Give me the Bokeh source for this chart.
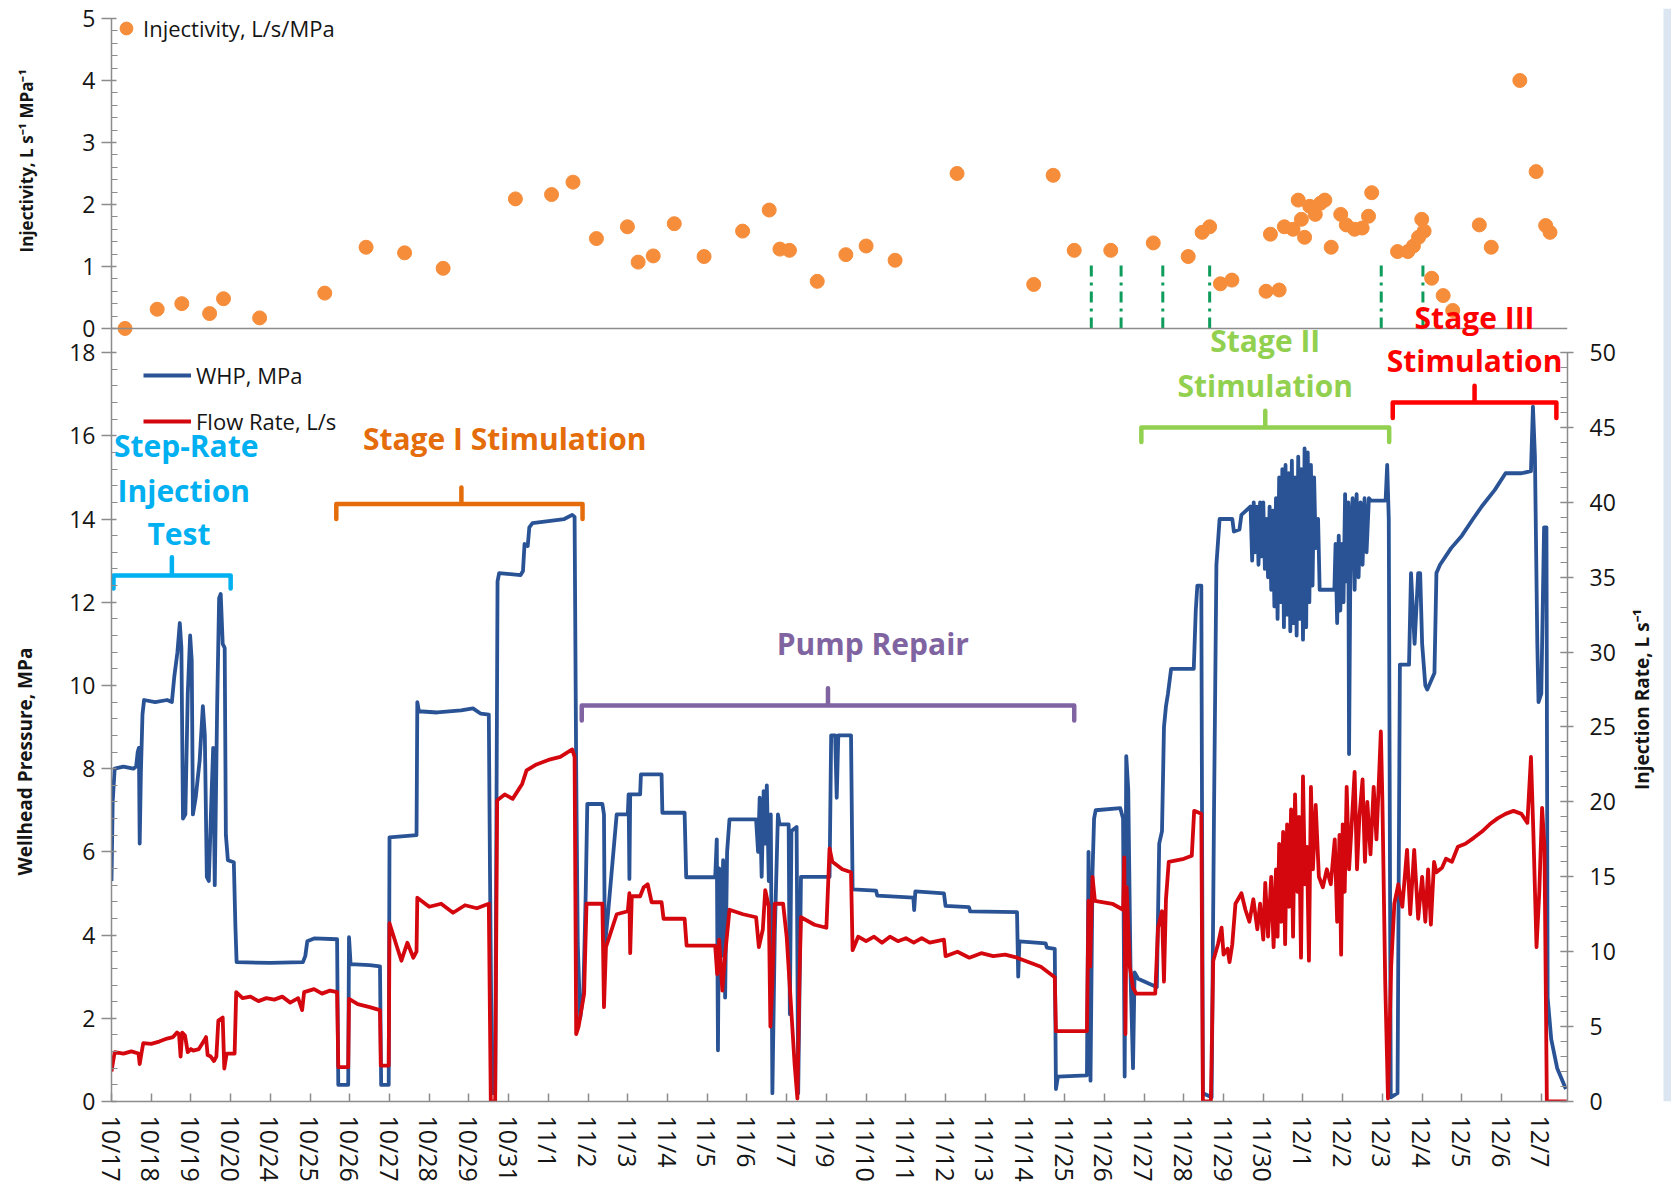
import math
from bokeh.plotting import figure
from bokeh.layouts import row
from bokeh.models import (Range1d, LinearAxis, FixedTicker, SingleIntervalTicker, Span,
                          Legend, LegendItem, Label, BoxAnnotation)
from bokeh.embed import file_html
from bokeh.resources import INLINE

# ---------------- data ----------------
dates = ["10/17", "10/18", "10/19", "10/20", "10/24", "10/25", "10/26", "10/27", "10/28",
         "10/29", "10/31", "11/1", "11/2", "11/3", "11/4", "11/5", "11/6", "11/7", "11/9",
         "11/10", "11/11", "11/12", "11/13", "11/14", "11/25", "11/26", "11/27", "11/28",
         "11/29", "11/30", "12/1", "12/2", "12/3", "12/4", "12/5", "12/6", "12/7"]

# wellhead pressure (MPa); x = position along the date-category axis
whp_x = [0.00, 0.03, 0.08, 0.30, 0.55, 0.62, 0.66, 0.69, 0.71, 0.74, 0.78, 0.82, 1.10, 1.40,
         1.52, 1.58, 1.66, 1.72, 1.76, 1.80, 1.86, 1.92, 1.98, 2.02, 2.05, 2.12, 2.22, 2.30,
         2.35, 2.40, 2.45, 2.52, 2.56, 2.60, 2.66, 2.71, 2.75, 2.80, 2.85, 2.88, 2.93, 3.08,
         3.12, 3.15,
         4.00, 4.82, 4.88, 4.93, 5.10, 5.68, 5.71, 5.96, 5.98, 6.02, 6.50, 6.76, 6.79, 6.98,
         7.00, 7.68,
         7.70, 7.74, 8.20, 8.80, 9.10, 9.30, 9.50, 9.53, 9.58, 9.66, 9.72, 9.76, 10.30, 10.36,
         10.40, 10.48, 10.52, 10.60, 11.00, 11.40, 11.60, 11.66, 11.70, 11.74, 11.80, 11.88,
         11.94, 11.98,
         12.36, 12.40, 12.42, 12.50, 12.72, 13.00, 13.02, 13.04, 13.06, 13.31, 13.33, 13.85,
         13.87, 14.43, 14.47, 15.20, 15.24, 15.27, 15.30, 15.35, 15.40, 15.45, 15.50, 15.56,
         16.23, 16.28, 16.32, 16.37, 16.42, 16.46, 16.50, 16.55, 16.60, 16.64, 16.70, 16.78,
         16.82, 17.05, 17.08, 17.12, 17.25, 17.29, 17.36, 18.08, 18.12, 18.22, 18.26, 18.30,
         18.62, 18.66, 19.25, 19.28, 20.19, 20.21, 20.24, 20.96, 21.00, 21.59, 21.62, 22.80,
         22.83, 22.86, 23.52, 23.55, 23.75, 23.78, 23.83, 24.56, 24.60, 24.65, 24.70, 24.74,
         24.78, 25.40, 25.47, 25.51, 25.55, 25.60, 25.66, 25.72, 25.76, 25.85, 26.20, 26.32,
         26.38, 26.45, 26.50, 26.55, 26.60, 26.68, 27.25, 27.30, 27.34, 27.44, 27.48, 27.70,
         27.76, 27.82, 27.90, 28.22, 28.26, 28.40, 28.45, 28.68,
         28.72, 28.76, 28.80, 28.84, 28.88, 28.92, 28.96, 29.00, 29.04, 29.08, 29.12, 29.16,
         29.20, 29.24, 29.28, 29.32, 29.36, 29.40, 29.44, 29.48, 29.52, 29.56, 29.60, 29.64,
         29.68, 29.72, 29.76, 29.80, 29.84, 29.88, 29.92, 29.96, 30.00, 30.04, 30.08, 30.12,
         30.16, 30.20, 30.24, 30.28, 30.32, 30.38, 30.42, 30.79, 30.82, 30.86, 30.90, 30.94,
         30.98, 31.02, 31.06, 31.10, 31.14, 31.16, 31.20, 31.25, 31.30, 31.35, 31.40, 31.45,
         31.50, 31.55, 31.60, 31.66, 31.72, 32.08, 32.12, 32.16, 32.21, 32.38, 32.44, 32.67,
         32.72, 32.81, 32.90, 32.95, 33.00, 33.08, 33.13, 33.31, 33.36, 33.45, 33.73, 34.00,
         34.28, 34.50, 34.83, 35.10, 35.50, 35.74, 35.79, 35.84, 35.90, 35.93, 36.00, 36.07,
         36.13, 36.16, 36.25, 36.40, 36.62]
whp_y = [5.3, 7.2, 8.0, 8.05, 8.0, 8.05, 8.4, 8.5, 6.2, 7.9, 9.3, 9.65, 9.6, 9.65,
         9.6, 10.2, 10.8, 11.5, 10.9, 6.8, 6.9, 9.8, 11.2, 10.6, 6.9, 7.3, 8.2, 9.5,
         8.8, 5.4, 5.3, 7.4, 8.5, 5.2, 9.5, 12.1, 12.2, 11.0, 10.9, 6.4, 5.8, 5.75,
         4.2, 3.35,
         3.33, 3.35, 3.5, 3.85, 3.92, 3.9, 0.4, 0.4, 3.95, 3.3, 3.28, 3.25, 0.4, 0.4,
         6.35, 6.4,
         9.6, 9.38, 9.35, 9.4, 9.45, 9.32, 9.3, 5.5, 0.2, 0.2, 12.5, 12.7, 12.65, 12.75,
         13.4, 13.35, 13.8, 13.9, 13.95, 14.0, 14.1, 14.05, 8.0, 3.8, 2.0, 2.6,
         5.0, 7.15,
         7.15, 6.9, 3.7, 4.5, 6.9, 6.9, 7.38, 5.35, 7.38, 7.38, 7.86, 7.86,
         6.94, 6.94, 5.39, 5.39, 6.3, 1.23, 5.6, 3.5, 5.8, 2.5, 6.0, 6.78,
         6.78, 6.0, 7.3, 5.4, 7.46, 6.2, 7.6, 5.3, 6.9, 0.2, 4.0, 6.9,
         6.66, 6.66, 2.1, 6.5, 6.6, 0.2, 5.4, 5.4, 8.8, 8.8, 7.3, 8.8,
         8.8, 5.1, 5.07, 4.95, 4.9, 4.6, 5.05, 5.0, 4.7, 4.67, 4.57, 4.55,
         3.0, 3.85, 3.8, 3.7, 3.67, 0.3, 0.6, 0.63, 6.0, 0.5, 5.5, 6.8,
         7.0, 7.05, 6.8, 0.6, 8.3, 7.5, 3.0, 0.8, 3.1, 2.95, 2.8, 2.75,
         6.2, 6.5, 9.0, 9.5, 9.8, 10.4, 10.4, 11.8, 12.4, 12.4, 0.2, 0.1,
         7.0, 12.9, 14.0, 14.0, 13.7, 13.75, 14.1, 14.3,
         13.0, 14.4, 13.2, 14.3, 12.9, 14.4, 13.1, 14.4, 12.8, 14.0, 12.6, 14.3,
         12.3, 14.2, 11.9, 14.5, 11.6, 15.0, 12.0, 15.2, 11.4, 15.3, 11.7, 15.1,
         11.3, 15.4, 11.5, 15.0, 11.2, 15.5, 11.6, 15.2, 11.1, 15.7, 11.4, 15.6,
         12.0, 15.3, 12.4, 15.0, 13.3, 14.0, 12.3, 12.3, 13.4, 11.5, 13.6, 11.8,
         13.4, 12.0, 14.6, 12.5, 14.4, 8.35, 13.8, 14.5, 12.3, 14.6, 12.6, 14.4,
         12.9, 14.5, 13.2, 14.5, 14.44, 14.44, 15.3, 14.0, 0.1, 0.2, 10.5, 10.5,
         12.7, 11.0, 12.7, 12.7, 11.0, 10.0, 9.9, 10.3, 12.7, 12.9, 13.3, 13.6,
         14.0, 14.3, 14.7, 15.1, 15.1, 15.15, 16.7, 15.5, 11.0, 9.6, 9.8, 13.8,
         13.8, 2.5, 1.5, 0.8, 0.3]

# injection flow rate (L/s)
flow_x = [0.00, 0.08, 0.30, 0.50, 0.68, 0.71, 0.76, 0.80, 1.00, 1.20, 1.40, 1.55, 1.65, 1.70,
          1.74, 1.78, 1.85, 1.92, 2.00, 2.06, 2.20, 2.34, 2.38, 2.42, 2.50, 2.58, 2.64, 2.69,
          2.80, 2.84, 2.90, 3.10, 3.14, 3.30, 3.50, 3.70, 3.90, 4.10, 4.30, 4.50, 4.70, 4.80,
          4.85, 5.10, 5.30, 5.50, 5.68, 5.71, 5.96, 5.98, 6.20, 6.50, 6.76, 6.78, 6.98, 7.00,
          7.19, 7.30, 7.45, 7.60, 7.68, 7.70, 8.00, 8.30, 8.60, 8.90, 9.20, 9.50, 9.55, 9.66,
          9.71, 9.90, 10.10, 10.34, 10.45, 10.70, 11.00, 11.30, 11.60, 11.66, 11.70, 11.76,
          11.90, 11.96, 12.36, 12.40, 12.45, 12.72, 13.00, 13.04, 13.06, 13.10, 13.31, 13.40,
          13.50, 13.60, 13.85, 13.90, 14.43, 14.48, 15.20, 15.25, 15.30, 15.38, 15.45, 15.56,
          15.90, 16.23, 16.30, 16.40, 16.46, 16.55, 16.59, 16.64, 16.70, 16.91, 17.00, 17.20,
          17.27, 17.32, 17.36, 17.70, 18.00, 18.08, 18.15, 18.40, 18.62, 18.66, 18.80, 19.00,
          19.20, 19.40, 19.60, 19.80, 20.00, 20.20, 20.40, 20.60, 20.96, 21.00, 21.30, 21.60,
          21.90, 22.20, 22.50, 22.80, 23.10, 23.40, 23.75, 23.78, 24.56, 24.60, 24.64, 24.70,
          24.76, 25.20, 25.47, 25.50, 25.53, 25.56, 25.64, 25.72, 25.80, 26.28, 26.35, 26.45,
          26.50, 26.55, 26.62, 27.00, 27.20, 27.26, 27.44, 27.48, 27.68, 27.74, 27.86, 27.95,
          28.00, 28.10, 28.15, 28.22, 28.30, 28.45, 28.55, 28.65, 28.75, 28.85, 28.92, 29.00,
          29.05, 29.12, 29.20, 29.26, 29.32, 29.36, 29.40, 29.45, 29.50, 29.55, 29.60, 29.65,
          29.70, 29.75, 29.80, 29.86, 29.90, 29.95, 30.00, 30.05, 30.10, 30.15, 30.20, 30.25,
          30.32, 30.40, 30.50, 30.60, 30.70, 30.80, 30.86, 30.92, 30.96, 31.00, 31.05, 31.10,
          31.16, 31.22, 31.30, 31.36, 31.42, 31.50, 31.56, 31.62, 31.70, 31.78, 31.85, 31.92,
          31.96, 32.00, 32.07, 32.14, 32.22, 32.30, 32.40, 32.50, 32.62, 32.70, 32.80, 32.90,
          33.00, 33.08, 33.15, 33.22, 33.30, 33.36, 33.50, 33.60, 33.75, 33.90, 34.09, 34.30,
          34.50, 34.70, 34.90, 35.10, 35.30, 35.50, 35.65, 35.74, 35.80, 35.88, 35.95, 36.02,
          36.08, 36.14, 36.64]
flow_y = [2.0, 3.3, 3.2, 3.35, 3.2, 2.5, 3.3, 3.9, 3.85, 4.0, 4.2, 4.3, 4.6, 4.5,
          3.0, 4.6, 4.4, 3.3, 3.5, 3.4, 3.5, 4.1, 4.3, 3.1, 3.0, 2.7, 3.0, 5.4,
          5.6, 2.2, 3.2, 3.2, 7.3, 6.9, 7.0, 6.7, 6.9, 6.8, 7.0, 6.6, 6.9, 6.1,
          7.3, 7.5, 7.2, 7.4, 7.3, 2.3, 2.3, 6.85, 6.5, 6.3, 6.1, 2.4, 2.4, 11.9,
          10.3, 9.4, 10.6, 9.6, 10.0, 13.6, 13.0, 13.2, 12.6, 13.1, 12.9, 13.2, 0.0, 0.0,
          20.1, 20.5, 20.2, 21.2, 22.1, 22.5, 22.8, 23.0, 23.5, 23.0, 4.5, 5.0,
          7.2, 13.2, 13.2, 6.3, 10.3, 12.5, 12.7, 13.9, 9.9, 13.7, 13.7, 14.3,
          14.5, 13.3, 13.3, 12.2, 12.2, 10.4, 10.4, 8.5, 10.8, 7.4, 9.8, 12.8,
          12.5, 12.3, 10.3, 11.5, 14.1, 13.0, 5.0, 8.0, 13.2, 13.2, 11.0, 2.5,
          0.2, 8.0, 12.3, 11.8, 11.6, 16.9, 16.0, 15.5, 15.3, 10.1, 11.0, 10.7,
          11.0, 10.6, 11.0, 10.7, 10.9, 10.6, 10.9, 10.6, 10.8, 9.7, 10.0, 9.6,
          9.9, 9.7, 9.8, 9.6, 9.3, 9.0, 8.3, 4.7, 4.7, 13.4, 9.0, 15.0,
          13.4, 13.2, 12.8, 16.3, 4.5, 14.3, 9.0, 7.6, 7.2, 7.2, 11.6, 12.7,
          8.0, 13.5, 16.0, 16.2, 16.4, 19.4, 19.2, 0.0, 0.0, 9.4, 10.5, 11.6,
          9.8, 10.2, 9.3, 10.5, 13.2, 13.9, 12.8, 12.0, 13.5, 11.5, 13.2, 10.8,
          14.6, 11.0, 15.0, 10.3, 15.5, 11.0, 17.2, 12.0, 18.0, 10.5, 18.5, 13.0,
          19.5, 11.0, 20.5, 14.0, 19.0, 9.6, 21.7, 14.5, 17.0, 9.4, 21.0, 15.5,
          19.8, 15.0, 14.3, 15.5, 14.5, 17.5, 12.0, 17.8, 9.8, 18.5, 14.0, 21.0,
          15.5, 18.2, 22.0, 15.5, 19.0, 21.5, 16.0, 20.0, 16.5, 21.0, 17.5, 22.0,
          24.7, 20.0, 8.0, 0.2, 9.0, 13.2, 14.5, 13.0, 16.8, 12.5, 16.8, 12.2,
          15.0, 12.0, 15.5, 11.8, 16.0, 15.3, 15.6, 16.2, 16.0, 17.0, 17.2, 17.6,
          18.0, 18.5, 18.9, 19.2, 19.4, 19.2, 18.6, 23.0, 18.0, 10.3, 14.0, 19.6,
          17.0, 0.0, 0.0]

# injectivity (L/s/MPa)
inj_x = [0.34, 1.15, 1.77, 2.47, 2.82, 3.73, 5.37, 6.41, 7.38, 8.35, 10.17, 11.08, 11.62,
         12.21, 12.99, 13.26, 13.64, 14.17, 14.92, 15.89, 16.56, 16.83, 17.07, 17.77, 18.49,
         19.00, 19.73, 21.29, 23.22, 23.71, 24.24, 25.16, 26.23, 27.11, 27.46, 27.65, 27.92,
         28.21, 29.07, 29.40, 29.18, 29.53, 29.75, 29.88, 29.96, 30.04, 30.17, 30.31, 30.44,
         30.55, 30.71, 30.95, 31.09, 31.30, 31.49, 31.65, 31.73, 32.38, 32.64, 32.78, 32.91,
         32.99, 33.05, 33.24, 33.53, 33.77, 34.44, 34.74, 35.46, 35.87, 36.11, 36.22]
inj_y = [0.00, 0.31, 0.40, 0.24, 0.48, 0.17, 0.57, 1.31, 1.22, 0.97, 2.09, 2.16, 2.36,
         1.45, 1.64, 1.07, 1.17, 1.69, 1.16, 1.57, 1.91, 1.28, 1.26, 0.76, 1.19,
         1.33, 1.10, 2.50, 0.71, 2.47, 1.26, 1.26, 1.38, 1.16, 1.55, 1.64, 0.72,
         0.78, 0.60, 0.62, 1.52, 1.64, 1.60, 2.07, 1.76, 1.47, 1.97, 1.84, 2.02,
         2.07, 1.31, 1.84, 1.67, 1.60, 1.62, 1.81, 2.19, 1.24, 1.24, 1.33, 1.47,
         1.76, 1.57, 0.81, 0.53, 0.29, 1.67, 1.31, 4.00, 2.53, 1.66, 1.55]

# stimulation-step markers (dash-dot verticals in the injectivity panel)
step_x = [24.67, 25.42, 26.47, 27.65, 31.97, 33.02]
step_top = [1.1, 1.1, 1.1, 1.1, 1.1, 1.1]

# axis tick values
whp_ticks = [0, 2, 4, 6, 8, 10, 12, 14, 16, 18]
inj_ticks = [0, 1, 2, 3, 4, 5]

# annotation texts (positions in date-index / WHP units)
ann_text = ["Step-Rate", "Injection", "Test", "Stage I Stimulation", "Pump Repair",
            "Stage II", "Stimulation", "Stage III", "Stimulation"]
ann_color = ["#00B0F0", "#00B0F0", "#00B0F0", "#E46C0A", "#8064A2",
             "#92D050", "#92D050", "#FF0000", "#FF0000"]
ann_x = [1.88, 1.82, 1.70, 9.9, 19.17, 29.05, 29.05, 34.32, 34.32]
ann_y = [15.77, 14.68, 13.64, 15.93, 11.0, 18.29, 17.2, 18.85, 17.81]

# bracket extents: start, end, middle, bar level, leg bottom, nub top
br_x0 = [0.05, 5.66, 11.84, 25.93, 32.26]
br_x1 = [3.00, 11.86, 24.24, 32.17, 36.38]
br_xm = [1.52, 8.81, 18.04, 29.05, 34.32]
br_yh = [12.64, 14.36, 9.52, 16.2, 16.8]
br_yb = [12.33, 14.0, 9.16, 15.85, 16.43]
br_yt = [13.08, 14.76, 9.93, 16.6, 17.2]
br_color = ["#00B0F0", "#E46C0A", "#8064A2", "#92D050", "#FF0000"]

# ---------------- styling constants ----------------
AX = "#8c8c8c"
FONT = "Open Sans"
BLUE = "#2A5396"
RED = "#D4070F"
ORANGE = "#F58D3B"
H = 1196
LEFT_W, RIGHT_W = 45, 46
MAIN_W = 1671 - LEFT_W - RIGHT_W

X_LO, X_HI = 0, 36.66
WHP_LO, WHP_HI = 0, 26.27
INJ_LO, INJ_HI = -12.47, 5.161
FLOW_LO, FLOW_HI = 0, 72.96

p = figure(width=MAIN_W, height=H, output_backend="svg", toolbar_location=None,
           x_range=Range1d(X_LO, X_HI), y_range=Range1d(WHP_LO, WHP_HI),
           x_axis_type=None, y_axis_type=None,
           min_border_left=66, min_border_right=58, min_border_top=8,
           min_border_bottom=95)
p.outline_line_color = None
p.background_fill_color = "white"
p.border_fill_color = "white"
p.extra_y_ranges = {"inj": Range1d(INJ_LO, INJ_HI), "flow": Range1d(FLOW_LO, FLOW_HI)}


def inj_to_whp(v):
    # position of an injectivity value on the shared left axis (through the two ranges)
    return WHP_LO + (v - INJ_LO) / (INJ_HI - INJ_LO) * (WHP_HI - WHP_LO)


def style(ax, size="23px"):
    ax.axis_line_color = AX
    ax.axis_line_width = 1.5
    ax.major_tick_line_color = AX
    ax.major_tick_line_width = 1.5
    ax.minor_tick_line_color = AX
    ax.minor_tick_line_width = 1
    ax.major_label_text_font = FONT
    ax.major_label_text_font_size = size
    ax.major_label_text_color = "#151515"


xaxis = LinearAxis(ticker=FixedTicker(ticks=list(range(len(dates)))),
                   major_label_overrides={i: d for i, d in enumerate(dates)})
style(xaxis, "25px")
xaxis.major_label_orientation = -math.pi / 2
xaxis.major_tick_in = 8
xaxis.major_tick_out = 0
xaxis.minor_tick_line_color = None
xaxis.major_label_standoff = 14
p.add_layout(xaxis, "below")

# shared left axis: WHP ticks for the lower panel, injectivity ticks for the upper panel
left_major = [float(t) for t in whp_ticks] + [inj_to_whp(t) for t in inj_ticks]
left_minor = [round(0.4 * k, 6) for k in range(46) if k % 5 != 0] + \
             [inj_to_whp(0.2 * k) for k in range(26) if k % 5 != 0]
left_labels = {float(t): str(t) for t in whp_ticks}
left_labels.update({inj_to_whp(t): str(t) for t in inj_ticks})
left_axis = LinearAxis(ticker=FixedTicker(ticks=left_major, minor_ticks=left_minor),
                       major_label_overrides=left_labels,
                       bounds=(WHP_LO, inj_to_whp(inj_ticks[-1])))
style(left_axis)
left_axis.major_tick_out = 10
left_axis.major_tick_in = 5
left_axis.minor_tick_out = 0
left_axis.minor_tick_in = 6
left_axis.major_label_standoff = 6
p.add_layout(left_axis, "left")

flow_axis = LinearAxis(y_range_name="flow", bounds=(0, 50),
                       ticker=SingleIntervalTicker(interval=5, num_minor_ticks=5))
style(flow_axis)
flow_axis.major_tick_out = 6
flow_axis.major_tick_in = 7
flow_axis.minor_tick_out = 0
flow_axis.minor_tick_in = 7
flow_axis.major_label_standoff = 16
p.add_layout(flow_axis, "right")

# baseline of the injectivity panel
p.add_layout(Span(location=0, dimension="width", y_range_name="inj",
                  line_color=AX, line_width=1.5))

# series
whp_r = p.line(whp_x, whp_y, line_color=BLUE, line_width=3.8, line_join="round")
flow_r = p.line(flow_x, flow_y, y_range_name="flow", line_color=RED, line_width=3.8,
                line_join="round")
p.segment(x0=step_x, y0=[0] * len(step_x), x1=step_x, y1=step_top, y_range_name="inj",
          line_color="#0E9C5C", line_width=3, line_dash="11 6 3 6")
inj_r = p.scatter(inj_x, inj_y, y_range_name="inj", size=14, marker="circle",
                  fill_color=ORANGE, line_color=ORANGE)

# brackets
bxs, bys = [], []
for x0, x1, xm, yh, yb, yt in zip(br_x0, br_x1, br_xm, br_yh, br_yb, br_yt):
    bxs.append([x0, x0, xm, xm, xm, x1, x1])
    bys.append([yb, yh, yh, yt, yh, yh, yb])
p.multi_line(bxs, bys, line_color=br_color, line_width=4.5, line_join="round",
             line_cap="round")

for t, c, x, y in zip(ann_text, ann_color, ann_x, ann_y):
    p.add_layout(Label(x=x, y=y, text=t, text_color=c, text_font=FONT,
                       text_font_style="bold", text_font_size="30px",
                       text_align="center", text_baseline="middle"))

# legends
leg_top = Legend(items=[LegendItem(label="Injectivity, L/s/MPa", renderers=[inj_r])],
                 location=(-1, 1057), glyph_width=32, glyph_height=32, label_height=24,
                 label_standoff=1, padding=10, margin=0, spacing=0,
                 background_fill_alpha=0, border_line_color=None,
                 label_text_font=FONT, label_text_font_size="22px",
                 label_text_color="#151515")
p.add_layout(leg_top, "center")

leg_bot = Legend(items=[LegendItem(label="WHP, MPa", renderers=[whp_r]),
                        LegendItem(label="Flow Rate, L/s", renderers=[flow_r])],
                 location=(32, 665), glyph_width=48, glyph_height=24, label_height=24,
                 label_standoff=5, padding=10, margin=0, spacing=16,
                 background_fill_alpha=0, border_line_color=None,
                 label_text_font=FONT, label_text_font_size="22px",
                 label_text_color="#151515")
p.add_layout(leg_bot, "center")

# ---------------- side strips holding the axis titles ----------------
# (their frames are aligned with the main frame, so they share the WHP vertical scale)
TITLE = dict(text_font=FONT, text_font_style="bold", text_color="#151515",
             text_align="center", text_baseline="middle", angle=math.pi / 2)


def side_fig(w):
    f = figure(width=w, height=H, output_backend="svg", toolbar_location=None,
               x_range=Range1d(0, w), y_range=Range1d(WHP_LO, WHP_HI), title=None,
               x_axis_type=None, y_axis_type=None,
               min_border_left=0, min_border_right=0, min_border_top=8,
               min_border_bottom=95)
    f.outline_line_color = None
    f.background_fill_color = "white"
    f.border_fill_color = "white"
    return f


lf = side_fig(LEFT_W)
lf.add_layout(Label(x=24, y=8.17, text="Wellhead Pressure, MPa", text_font_size="19px",
                    **TITLE))
lf.add_layout(Label(x=26, y=22.61, text="Injectivity, L s\u207b\u00b9 MPa\u207b\u00b9",
                    text_font_size="17px", **TITLE))

rf = side_fig(RIGHT_W)
rf.add_layout(BoxAnnotation(left=38, right=RIGHT_W, fill_color="#dce6f2", fill_alpha=1,
                            line_color=None))
rf.add_layout(Label(x=16, y=9.66, text="Injection Rate, L s\u207b\u00b9",
                    text_font_size="19px", **TITLE))

layout = row(lf, p, rf)
open("out.html", "w").write(file_html(layout, INLINE))
